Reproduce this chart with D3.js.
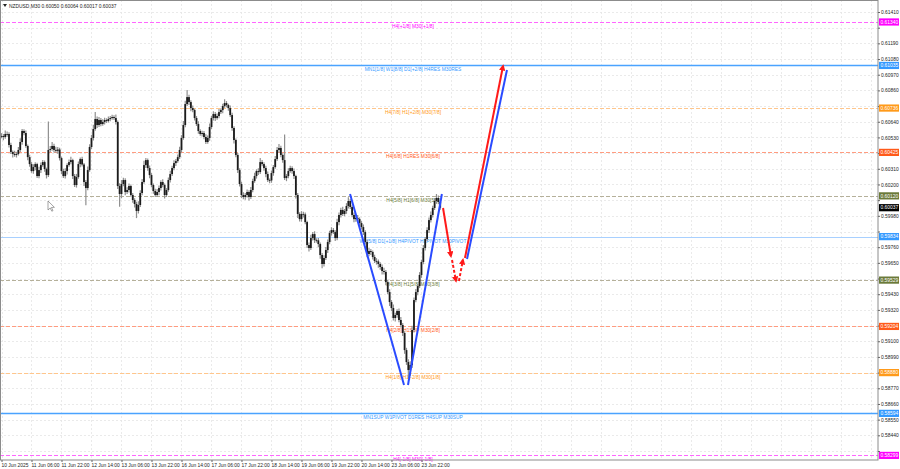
<!DOCTYPE html>
<html><head><meta charset="utf-8">
<script src="https://cdn.jsdelivr.net/npm/d3@7"></script>
<style>body{margin:0;background:#fff}svg{display:block}text{font-family:"Liberation Sans",Arial,sans-serif}</style>
</head><body>
<svg id="c" width="900" height="469"></svg>
<script>
// ---------------- DATA ----------------
const symbolTitle = "NZDUSD,M30  0.60050 0.60064 0.60017 0.60037";
// hourly closes in points (1 point = 0.00001)
const closes = [
60540,60533,60554,60554,60477,60428,60414,60407,60414,60442,60498,60575,60561,60470,60392,60343,
60294,60322,60343,60259,60301,60336,60357,60308,60266,60442,60449,60470,60442,60436,60445,60385,
60294,60259,60294,60336,60357,60371,60259,60196,60252,60343,60378,60340,60217,60175,60301,60463,
60526,60589,60659,60617,60652,60624,60638,60652,60645,60659,60666,60673,60666,60638,60189,60133,
60203,60231,60147,60161,60189,60126,60091,60063,60014,60056,60140,60217,60336,60371,60315,60266,
60196,60154,60126,60147,60175,60217,60196,60126,60161,60231,60273,60315,60350,60364,60392,60442,
60526,60617,60764,60813,60778,60736,60722,60666,60624,60575,60554,60561,60533,60498,60526,60603,
60666,60694,60666,60680,60708,60722,60750,60771,60757,60736,60687,60596,60512,60407,60301,60203,
60126,60112,60126,60147,60112,60161,60224,60259,60294,60287,60357,60343,60315,60273,60231,60228,
60280,60322,60378,60442,60456,60407,60371,60245,60259,60294,60315,60294,60259,60126,59993,59957,
59993,59990,59936,59775,59754,59824,59852,59810,59808,59782,59705,59642,59684,59740,59796,59859,
59880,59866,59824,59936,59986,60021,59993,60014,60049,60084,60042,59986,59957,59965,59957,59929,
59901,59866,59796,59712,59733,59726,59691,59663,59660,59642,59621,59593,59586,59515,59445,59375,
59333,59263,59284,59312,59249,59214,59158,59038,58954,58898,58933,59179,59389,59445,59487,59565,
59656,59754,59817,59880,59950,59986,60035,60084,60105,60077,60037
];
const upperWick = [
20,14,25,18,12,16,10,22,15,20,26,14,12,18,10,16,
14,20,12,10,24,18,15,12,10,200,20,28,15,22,18,12,
10,16,20,12,18,24,10,14,22,18,12,16,10,14,25,20,
22,30,50,18,22,14,20,16,12,18,14,16,12,24,10,20,
28,16,12,20,18,10,14,12,16,26,20,22,30,14,12,18,
14,10,16,22,18,12,20,10,14,18,24,16,20,14,18,22,
20,28,24,50,16,12,18,10,14,20,12,16,14,20,18,24,
16,20,14,18,22,12,16,26,14,10,18,16,12,10,14,12,
16,20,14,18,12,22,16,24,12,20,28,14,12,16,18,10,
18,14,22,20,28,16,12,180,14,20,16,12,18,10,14,12,
20,16,14,10,18,24,14,20,12,16,10,14,20,22,18,16,
20,14,12,24,18,16,22,14,20,26,14,12,18,16,20,12,
14,18,12,16,22,14,10,16,20,14,12,18,22,14,16,20,
14,24,16,12,18,22,14,12,16,20,26,30,18,22,14,20,
16,22,14,20,18,24,16,20,28,18,12
];
const lowerWick = [
16,22,12,20,18,14,24,12,18,10,14,20,16,12,22,18,
12,18,22,14,16,20,12,18,24,14,16,12,18,14,20,16,
22,14,18,24,12,16,20,14,18,12,22,14,28,120,16,12,
14,18,12,20,14,16,12,18,14,10,16,12,14,18,20,90,
30,16,22,14,18,12,20,24,50,18,14,16,12,20,18,22,
16,20,14,12,22,18,16,24,14,12,18,14,16,20,12,14,
18,12,16,14,20,22,16,18,14,20,12,18,16,14,12,20,
14,18,20,12,16,14,22,12,16,18,14,20,24,16,20,18,
22,16,20,18,24,14,16,12,18,20,14,16,18,22,14,20,
16,18,12,14,20,16,18,14,22,16,12,18,20,24,28,16,
18,22,16,20,24,14,18,20,16,22,26,30,18,14,20,16,
18,14,20,16,22,18,14,16,20,18,14,16,22,18,14,20,
16,20,18,22,16,20,18,14,22,26,20,24,18,22,16,28,
22,18,24,20,16,18,22,26,20,56,40,20,18,16,22,14,
20,16,18,14,20,16,18,14,20,16,14
];
const timeLabels = ["10 Jun 2025","11 Jun 06:00","11 Jun 22:00","12 Jun 14:00","13 Jun 06:00","13 Jun 22:00",
  "16 Jun 14:00","17 Jun 06:00","17 Jun 22:00","18 Jun 14:00","19 Jun 06:00","19 Jun 22:00",
  "20 Jun 14:00","23 Jun 06:00","23 Jun 22:00"];
const priceTicks = ["0.61410","0.61300","0.61190","0.61080","0.60970","0.60860","0.60750","0.60640",
  "0.60530","0.60420","0.60310","0.60200","0.60090","0.59980","0.59870","0.59760","0.59650","0.59540",
  "0.59430","0.59320","0.59210","0.59100","0.58990","0.58880","0.58770","0.58660","0.58550","0.58440","0.58330"];
const levelPrices = [0.61340,0.61035,0.60736,0.60425,0.60120,0.59834,0.59529,0.59204,0.58880,0.58594,0.58299];
const levelLabels = ["H4[+1/8] M30[+1/8]","MN1[1/8] W1[8/8] D1[+2/8] H4RES M30RES","H4[7/8] H1[+2/8] M30[7/8]",
  "H4[6/8] H1RES M30[6/8]","H4[5/8] H1[6/8] M30[5/8]","W1[5/8] D1[+1/8] H4PIVOT H1PIVOT M30PIVOT",
  "H4[3/8] H1[5/8] M30[3/8]","H4[2/8] H1SUP M30[2/8]","H4[1/8] H1[-2/8] M30[1/8]",
  "MN1SUP W1PIVOT D1RES H4SUP M30SUP","H4[-1/8] M30[-1/8]"];
const levelKinds = ["ext","major","eighth","sr","mid","pivot","mid","sr","eighth","major","ext"];
const lastPrice = 0.60037;
// forecast drawing: [hour index, price]
const vLeft = [[185.9,0.60133],[214.7,0.58793]];
const vRight = [[216.8,0.58793],[234.9,0.60133]];
const redDown = [[235.5,0.60035],[239.7,0.59698]];
const redDashDown = [[240.3,0.59670],[242.4,0.59523]];
const redDashUp = [[244.0,0.59523],[246.1,0.59670]];
const redUp = [[247.2,0.59684],[267.5,0.61031]];
const blueUp = [[248.3,0.59677],[269.6,0.61003]];

// ---------------- STYLE ----------------
const kindStyle = {
  ext:   {line:"#ff66ff", box:"#ff00ff", text:"#ff00ff", dash:"4,2", w:1},
  major: {line:"#4aa3ff", box:"#3399ff", text:"#3399ff", dash:null, w:1.5},
  eighth:{line:"#ffc68c", box:"#ff9a1a", text:"#ff9a1a", dash:"4,2", w:1},
  sr:    {line:"#ff9c80", box:"#ff5a1a", text:"#ff5a1a", dash:"4,2", w:1},
  mid:   {line:"#b5b09a", box:"#6b7a3a", text:"#6b7a3a", dash:"4,2", w:1},
  pivot: {line:"#a8d0ff", box:"#3399ff", text:"#3399ff", dash:null, w:1.2}
};
const plotR = 878, plotB = 460;
const svg = d3.select("#c");
const x = d3.scaleLinear().domain([0, 467.5]).range([1.5, plotR]);
const y = d3.scaleLinear().domain([0.58330, 0.61410]).range([451, 12]);
const fs = 4.9;

// grid
const grid = svg.append("g");
priceTicks.forEach(t => {
  const yy = Math.round(y(+t)) + 0.5;
  grid.append("line").attr("x1",0).attr("x2",plotR).attr("y1",yy).attr("y2",yy)
    .attr("stroke","#e4e4e4").attr("stroke-dasharray","2,2").attr("stroke-width",0.8);
});
const gridIdx = d3.range(0, 468, 16);
gridIdx.forEach(j => {
  const xx = Math.round(x(j)) + 0.5;
  grid.append("line").attr("x1",xx).attr("x2",xx).attr("y1",0).attr("y2",plotB)
    .attr("stroke","#e4e4e4").attr("stroke-dasharray","2,2").attr("stroke-width",0.8);
});

// levels
const lv = svg.append("g");
levelPrices.forEach((p,i) => {
  const st = kindStyle[levelKinds[i]];
  const yy = Math.round(y(p)) + 0.5;
  const l = lv.append("line").attr("x1",0).attr("x2",plotR).attr("y1",yy).attr("y2",yy)
    .attr("stroke",st.line).attr("stroke-width",st.w);
  if (st.dash) l.attr("stroke-dasharray",st.dash);
  lv.append("text").attr("x",413).attr("y",yy+5.2).attr("text-anchor","middle")
    .attr("font-size",fs).attr("fill",st.text).text(levelLabels[i]);
});

// candles
const cg = svg.append("g");
closes.forEach((c,i) => {
  const o = i === 0 ? c : closes[i-1];
  const hi = Math.max(o,c) + upperWick[i], lo = Math.min(o,c) - lowerWick[i];
  const xx = x(i);
  cg.append("line").attr("x1",xx).attr("x2",xx).attr("y1",y(hi/1e5)).attr("y2",y(lo/1e5))
    .attr("stroke","#8f8f8f").attr("stroke-width",1.2);
  const y1 = y(Math.max(o,c)/1e5), y2 = y(Math.min(o,c)/1e5);
  cg.append("rect").attr("x",xx-0.9).attr("width",1.8).attr("y",y1).attr("height",Math.max(0.8,y2-y1))
    .attr("fill","#1c1c1c");
});

// forecast lines
const defs = svg.append("defs");
defs.append("marker").attr("id","ar").attr("viewBox","0 0 10 10").attr("refX",7).attr("refY",5)
  .attr("markerWidth",3.2).attr("markerHeight",3.2).attr("orient","auto")
  .append("path").attr("d","M0,0 L10,5 L0,10 z").attr("fill","#ff1a1a");
const line = d3.line().x(d=>x(d[0])).y(d=>y(d[1]));
const fg = svg.append("g").attr("fill","none");
[vLeft, vRight, blueUp].forEach(seg => fg.append("path").attr("d",line(seg)).attr("stroke","#2a4bff").attr("stroke-width",2));
fg.append("path").attr("d",line(redDown)).attr("stroke","#ff1a1a").attr("stroke-width",2).attr("marker-end","url(#ar)");
fg.append("path").attr("d",line(redDashDown)).attr("stroke","#ff1a1a").attr("stroke-width",2).attr("stroke-dasharray","3,2").attr("marker-end","url(#ar)");
fg.append("path").attr("d",line(redDashUp)).attr("stroke","#ff1a1a").attr("stroke-width",2).attr("stroke-dasharray","3,2").attr("marker-end","url(#ar)");
fg.append("path").attr("d",line(redUp)).attr("stroke","#ff1a1a").attr("stroke-width",2).attr("marker-end","url(#ar)");

// frame
svg.append("rect").attr("x",0.5).attr("y",0.5).attr("width",plotR-0.5).attr("height",plotB-0.5)
  .attr("fill","none").attr("stroke","#8c8c8c").attr("stroke-width",1);

// price axis
const boxYs = levelPrices.map(p => y(p)).concat([y(lastPrice)]);
const ya = d3.axisRight(y).tickValues(priceTicks.map(Number)).tickFormat(d3.format(".5f")).tickSize(2);
const yg = svg.append("g").attr("transform",`translate(${plotR},0)`).call(ya);
yg.select(".domain").remove();
yg.selectAll(".tick line").attr("stroke","#666");
yg.selectAll(".tick text").attr("font-size",fs).attr("fill","#222").attr("x",3)
  .style("display", d => boxYs.some(b => Math.abs(b - y(d)) < 6) ? "none" : null);

// level boxes
levelPrices.concat([lastPrice]).forEach((p,i) => {
  const col = i < levelPrices.length ? kindStyle[levelKinds[i]].box : "#000";
  const yy = y(p);
  svg.append("rect").attr("x",plotR+1).attr("y",yy-3.6).attr("width",20).attr("height",7.2).attr("fill",col);
  svg.append("text").attr("x",plotR+2.5).attr("y",yy+1.8).attr("font-size",fs).attr("fill","#fff").text(d3.format(".5f")(p));
});

// time axis
const tIdx = timeLabels.map((_,k) => k*16);
const xa = d3.axisBottom(x).tickValues(tIdx).tickFormat((d,k) => timeLabels[k]).tickSize(2);
const xg = svg.append("g").attr("transform",`translate(0,${plotB})`).call(xa);
xg.select(".domain").remove();
xg.selectAll(".tick line").attr("stroke","#666");
xg.selectAll(".tick text").attr("font-size",fs).attr("fill","#222").attr("text-anchor","start").attr("dx",-0.5).attr("y",3.5);

// title
svg.append("path").attr("d","M3,4 L7,4 L5,7 z").attr("fill","#222");
svg.append("text").attr("x",9).attr("y",7.5).attr("font-size",fs).attr("fill","#222").text(symbolTitle);
// mouse pointer
svg.append("path").attr("d","M48,201 L48,210 L50.2,208 L51.8,211.2 L53,210.6 L51.4,207.5 L54.4,207.3 Z")
  .attr("fill","#fff").attr("stroke","#666").attr("stroke-width",0.6);
</script>
</body></html>
